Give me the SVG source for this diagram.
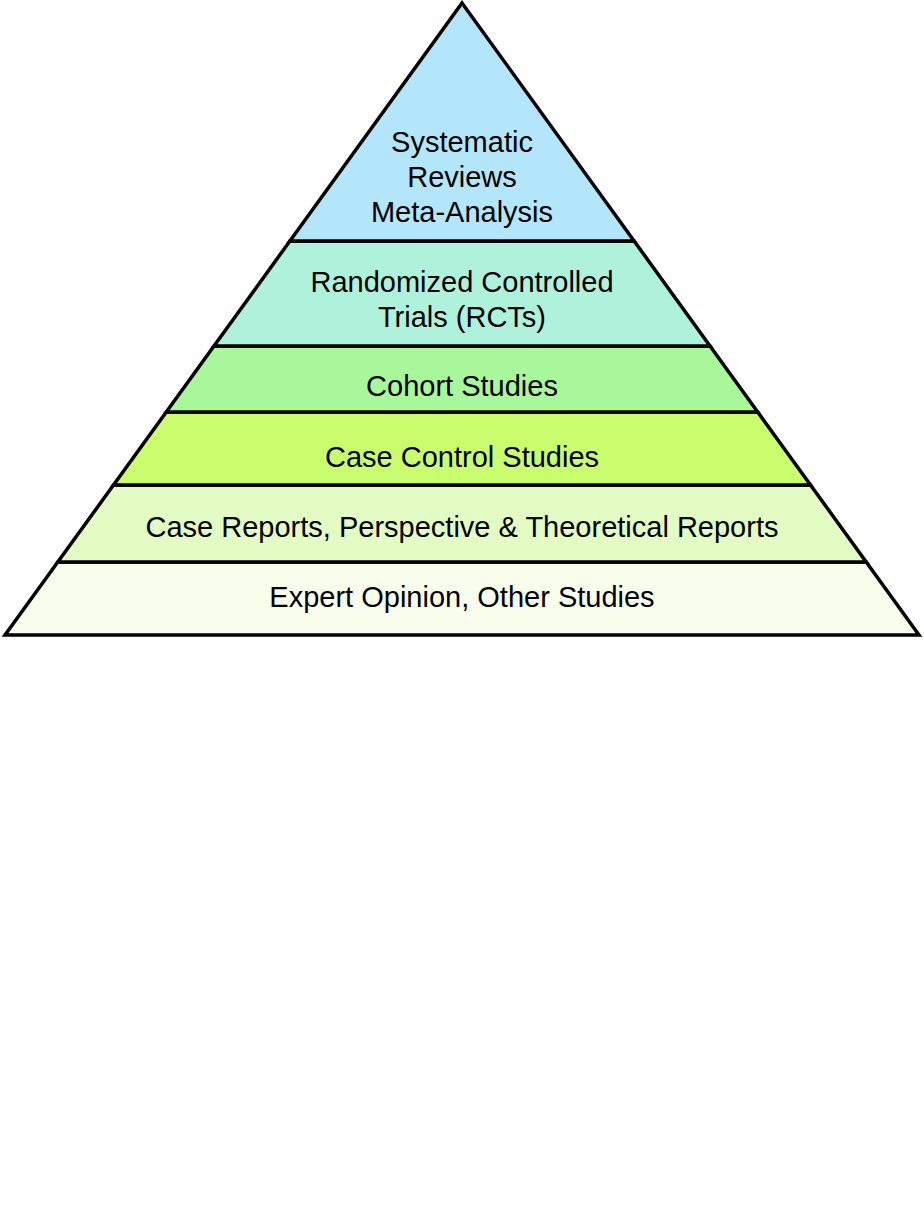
<svg xmlns="http://www.w3.org/2000/svg" width="924" height="1214" viewBox="0 0 924 1214">
<style>
.layer{stroke:#000;stroke-width:3.5;stroke-linejoin:miter}
.t{font-family:"Liberation Sans",Arial,sans-serif;font-size:29px;fill:#000;text-anchor:middle}
</style>
<rect width="924" height="1214" fill="#fff"/>
<g id="expert"><polygon class="layer" fill="#f9fdeb" points="57.8,562 866.2,562 919,635 5,635"/><text class="t" x="462" y="607">Expert Opinion, Other Studies</text></g>
<g id="case-reports"><polygon class="layer" fill="#e2fcc3" points="113.5,485 810.5,485 866.2,562 57.8,562"/><text class="t" x="462" y="537">Case Reports, Perspective &amp; Theoretical Reports</text></g>
<g id="case-control"><polygon class="layer" fill="#c9fd6e" points="166.3,412 757.7,412 810.5,485 113.5,485"/><text class="t" x="462" y="467">Case Control Studies</text></g>
<g id="cohort"><polygon class="layer" fill="#a8f79a" points="214,346 710,346 757.7,412 166.3,412"/><text class="t" x="462" y="396">Cohort Studies</text></g>
<g id="rct"><polygon class="layer" fill="#aef2dc" points="289.9,241 634.1,241 710,346 214,346"/><text class="t" x="462" y="292">Randomized Controlled</text><text class="t" x="462" y="327">Trials (RCTs)</text></g>
<g id="systematic"><polygon class="layer" fill="#b3e6fb" points="462,3 634.1,241 289.9,241"/><text class="t" x="462" y="152">Systematic</text><text class="t" x="462" y="187">Reviews</text><text class="t" x="462" y="222">Meta-Analysis</text></g>
<g id="connectors"></g>
</svg>
